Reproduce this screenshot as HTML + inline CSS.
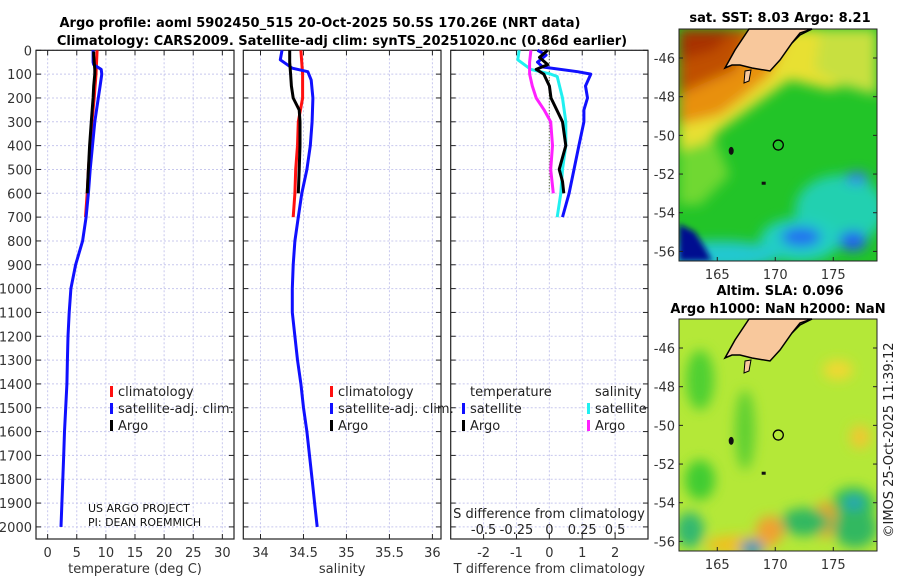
<!DOCTYPE html>
<html><head><meta charset="utf-8"><style>
html,body{margin:0;padding:0;background:#fff;width:900px;height:580px;overflow:hidden}
svg{display:block;font-family:"DejaVu Sans","Liberation Sans",sans-serif}
</style></head><body>
<svg id="fig" width="900" height="580" viewBox="0 0 900 580">
<defs>
<filter id="bl" x="-50%" y="-50%" width="200%" height="200%"><feGaussianBlur stdDeviation="6"/></filter>
<filter id="bl2" x="-50%" y="-50%" width="200%" height="200%"><feGaussianBlur stdDeviation="3"/></filter>
<clipPath id="c1"><rect x="679" y="29" width="198" height="232"/></clipPath>
<clipPath id="c2"><rect x="679" y="319" width="198" height="232"/></clipPath>
</defs>
<text x="320" y="27" text-anchor="middle" font-size="13" font-weight="bold">Argo profile: aoml 5902450_515 20-Oct-2025 50.5S 170.26E (NRT data)</text>
<text x="342" y="45" text-anchor="middle" font-size="13" font-weight="bold">Climatology: CARS2009. Satellite-adj clim: synTS_20251020.nc (0.86d earlier)</text>
<g id="panels"></g>

<g clip-path="url(#c1)">
<rect x="679" y="29" width="198" height="232" fill="#22c428"/>
<g filter="url(#bl)">
<polygon points="679,29 877,29 877,75 830,90 790,80 755,105 720,130 700,150 679,160" fill="#e8e030"/>
<polygon points="679,29 790,29 770,75 740,100 720,115 679,125" fill="#e89010"/>
<polygon points="679,29 750,29 735,70 700,85 679,95" fill="#c05000"/>
<polygon points="679,29 735,29 715,50 679,60" fill="#a83000"/>
<polygon points="820,29 877,29 877,95 840,85 815,70" fill="#c8e040"/>
<polygon points="679,150 715,140 730,175 700,205 679,205" fill="#70d830"/>
<ellipse cx="840" cy="210" rx="45" ry="35" fill="#20d0b0"/>
<ellipse cx="800" cy="240" rx="40" ry="22" fill="#20d0c0"/>
<ellipse cx="720" cy="255" rx="60" ry="14" fill="#20c8d0"/>
<ellipse cx="801" cy="237" rx="20" ry="10" fill="#2070f0"/>
<ellipse cx="853" cy="241" rx="14" ry="10" fill="#2060f0"/>
<ellipse cx="857" cy="178" rx="12" ry="6" fill="#3080f0"/>
</g>
<polygon points="679,224 695,232 705,248 712,261 679,261" fill="#001090" filter="url(#bl2)"/>
</g>
<rect x="679" y="29" width="198" height="232" fill="none" stroke="#222"/>
<g clip-path="url(#c2)">
<rect x="679" y="319" width="198" height="232" fill="#b4e838"/>
<g filter="url(#bl)">
<ellipse cx="700" cy="380" rx="14" ry="30" fill="#50d030"/>
<ellipse cx="745" cy="430" rx="10" ry="40" fill="#60d030"/>
<ellipse cx="700" cy="480" rx="15" ry="20" fill="#40cc30"/>
<ellipse cx="853" cy="505" rx="22" ry="18" fill="#30c050"/>
<ellipse cx="854" cy="503" rx="10" ry="7" fill="#20a0c0"/>
<ellipse cx="825" cy="520" rx="12" ry="18" fill="#f0a020"/>
<ellipse cx="805" cy="522" rx="25" ry="14" fill="#30b860"/>
<ellipse cx="855" cy="528" rx="22" ry="20" fill="#30b860"/>
<ellipse cx="690" cy="530" rx="14" ry="18" fill="#30b870"/>
<ellipse cx="740" cy="545" rx="35" ry="10" fill="#f0c020"/>
<ellipse cx="770" cy="530" rx="14" ry="14" fill="#f0a030"/>
<ellipse cx="752" cy="548" rx="12" ry="8" fill="#2090c0"/>
<ellipse cx="838" cy="370" rx="15" ry="10" fill="#f0d830"/>
<ellipse cx="860" cy="437" rx="10" ry="12" fill="#f0c830"/>
</g>
</g>
<rect x="679" y="319" width="198" height="232" fill="none" stroke="#222"/>
<g id="maps"></g>
<text x="780" y="22" text-anchor="middle" font-size="13" font-weight="bold">sat. SST: 8.03 Argo: 8.21</text>
<text x="780" y="295" text-anchor="middle" font-size="13" font-weight="bold">Altim. SLA: 0.096</text>
<text x="778" y="313" text-anchor="middle" font-size="13" font-weight="bold">Argo h1000: NaN h2000: NaN</text>
<text transform="translate(893,440) rotate(-90)" text-anchor="middle" font-size="13" fill="#222">©IMOS 25-Oct-2025 11:39:12</text>
</svg>
<script>
const argoDepth=[5,20,50,80,100,150,200,300,400,500,600];
const argoTemp=[7.9,7.9,8.0,8.1,8.1,7.9,7.8,7.5,7.2,7.0,6.8];
const climDepth=[0,100,200,300,400,500,600,700];
const climTemp=[8.5,8.3,8.0,7.6,7.3,7.0,6.8,6.5];
const satDepth=[0,50,60,80,100,150,200,300,400,500,600,700,800,900,1000,1100,1200,1300,1400,1500,1600,1700,1800,1900,2000];
const satTemp=[7.8,7.8,7.9,9.2,9.3,9.0,8.7,8.1,7.7,7.3,7.0,6.6,6.0,4.8,4.0,3.7,3.5,3.4,3.3,3.1,2.9,2.75,2.6,2.45,2.3];
const satSalDepth=[0,40,75,90,125,200,300,400,500,600,700,800,900,1000,1100,1200,1300,1400,1500,1600,1700,1800,1900,2000];
const satSal=[34.25,34.23,34.37,34.55,34.59,34.61,34.6,34.58,34.54,34.48,34.44,34.40,34.38,34.37,34.37,34.40,34.43,34.47,34.50,34.54,34.57,34.60,34.63,34.66];
const climSal=[34.47,34.49,34.49,34.44,34.43,34.41,34.40,34.38];
const argoSalDepth=[0,50,100,150,200,250,300,400,500,600];
const argoSal=[34.34,34.34,34.35,34.36,34.38,34.45,34.46,34.46,34.45,34.44];
const dDepth=[0,30,60,80,100,150,200,300,400,500,550,600];
const argoTDiff=[-0.05,-0.3,-0.05,-0.4,-0.17,0,0.05,0.4,0.5,0.3,0.4,0.44];
const satTDiffDepth=[0,20,50,70,90,100,150,200,250,300,400,500,600,700];
const satTDiff=[-0.36,-0.1,-0.36,-0.2,0.86,1.26,1.1,1.16,1.05,1.05,0.9,0.75,0.6,0.4];
const satSDiffDepth=[0,40,80,100,110,200,300,400,500,600,700];
const satSDiff=[-0.23,-0.24,-0.14,0.01,0.06,0.1,0.125,0.125,0.1,0.087,0.06];
const argoSDiffDepth=[0,50,100,150,200,250,300,400,500,600];
const argoSDiff=[-0.14,-0.15,-0.15,-0.13,-0.1,-0.04,0.01,0.024,0.01,0.03];
const depthTicks=[0,100,200,300,400,500,600,700,800,900,1000,1100,1200,1300,1400,1500,1600,1700,1800,1900,2000];
const tempTicks=[0,5,10,15,20,25,30];
const salTicks=[34,34.5,35,35.5,36];
const tdTicks=[-2,-1,0,1,2];
const sdTicks=[-0.5,-0.25,0,0.25,0.5];
const lonTicks=[165,170,175];
const latTicks=[-46,-48,-50,-52,-54,-56];

const NS='http://www.w3.org/2000/svg';
const yTop=50.3, yBot=539, pxPer=0.2383;
const yD=d=>yTop+d*pxPer;
function mk(tag,attrs,parent){const e=document.createElementNS(NS,tag);for(const k in attrs)e.setAttribute(k,attrs[k]);parent.appendChild(e);return e;}
const P=document.getElementById('panels');
function panel(name,x0,x1,vmin,vmax,ticks,label,fmt){
  const g=mk('g',{},P);
  
  
  const xs=v=>x0+(v-vmin)/(vmax-vmin)*(x1-x0);
  depthTicks.forEach(d=>{const l=mk('line',{x1:x0,x2:x1,y1:yD(d),y2:yD(d),stroke:'#c8c8ee','stroke-dasharray':'2,2','stroke-width':1},g);
    
    });
  ticks.forEach(v=>{const l=mk('line',{x1:xs(v),x2:xs(v),y1:yTop,y2:yBot,stroke:'#c8c8ee','stroke-dasharray':'2,2','stroke-width':1},g);
    
    
    mk('line',{x1:xs(v),x2:xs(v),y1:yBot,y2:yBot-5,stroke:'#222'},g);
    mk('line',{x1:xs(v),x2:xs(v),y1:yTop,y2:yTop+5,stroke:'#222'},g);
    const t=mk('text',{x:xs(v),y:yBot+18,'text-anchor':'middle','font-size':13,fill:'#333'},g);t.textContent=fmt(v);
    
    });
  depthTicks.forEach(d=>{mk('line',{x1:x0,x2:x0+5,y1:yD(d),y2:yD(d),stroke:'#222'},g);mk('line',{x1:x1,x2:x1-5,y1:yD(d),y2:yD(d),stroke:'#222'},g);});
  const r=mk('rect',{x:x0,y:yTop,width:x1-x0,height:yBot-yTop,fill:'none',stroke:'#222','stroke-width':1.2},g);
  
  
  if(label){const t=mk('text',{x:(x0+x1)/2,y:yBot+34,'text-anchor':'middle','font-size':13,fill:'#333'},g);t.textContent=label;
    
    }
  return {g,xs};
}
function line(p,depths,vals,color,name,scale){
  const pts=depths.map((d,i)=>p.xs(vals[i]*(scale||1)).toFixed(1)+','+yD(d).toFixed(1)).join(' ');
  const e=mk('polyline',{points:pts,fill:'none',stroke:color,'stroke-width':3,'stroke-linejoin':'round'},p.g);
  
  
}
function legendItem(g,x,y,color,txt,name){
  mk('rect',{x:x,y:y-10,width:3,height:11,fill:color},g);
  const t=mk('text',{x:x+8,y:y,'font-size':13,fill:'#222'},g);t.textContent=txt;
  
  
}
const p1=panel('temperature-panel',36,234,-2,32,tempTicks,'temperature (deg C)',v=>v);
depthTicks.forEach(d=>{const t=mk('text',{x:32,y:yD(d)+5,'text-anchor':'end','font-size':13,fill:'#333'},p1.g);t.textContent=d;
  
  });
line(p1,climDepth,climTemp,'#ff1010','climatology-temp-line');
line(p1,satDepth,satTemp,'#1010ff','satellite-temp-line');
line(p1,argoDepth,argoTemp,'#000','argo-temp-line');
legendItem(p1.g,110,396,'#ff1010','climatology','legend-climatology');
legendItem(p1.g,110,413,'#1010ff','satellite-adj. clim.','legend-satellite');
legendItem(p1.g,110,430,'#000','Argo','legend-argo');
[['US ARGO PROJECT',512],['PI: DEAN ROEMMICH',526]].forEach(a=>{const t=mk('text',{x:88,y:a[1],'font-size':11,fill:'#111'},p1.g);t.textContent=a[0];
  
  });
const p2=panel('salinity-panel',243.3,441,33.8,36.1,salTicks,'salinity',v=>v);
line(p2,climDepth,climSal,'#ff1010','climatology-sal-line');
line(p2,satSalDepth,satSal,'#1010ff','satellite-sal-line');
line(p2,argoSalDepth,argoSal,'#000','argo-sal-line');
legendItem(p2.g,330,396,'#ff1010','climatology','legend-climatology');
legendItem(p2.g,330,413,'#1010ff','satellite-adj. clim.','legend-satellite');
legendItem(p2.g,330,430,'#000','Argo','legend-argo');
const p3=panel('difference-panel',450.7,648,-3,3,tdTicks,'T difference from climatology',v=>v);
const z=mk('line',{x1:p3.xs(0),x2:p3.xs(0),y1:yD(0),y2:yD(600),stroke:'#556b2f','stroke-dasharray':'1,2','stroke-width':1.2},p3.g);


line(p3,satSDiffDepth,satSDiff,'#20f0f0','satellite-sal-diff-line',4);
line(p3,argoSDiffDepth,argoSDiff,'#ff20ff','argo-sal-diff-line',4);
line(p3,satTDiffDepth,satTDiff,'#1010ff','satellite-temp-diff-line');
line(p3,dDepth,argoTDiff,'#000','argo-temp-diff-line');
(function(){const t=mk('text',{x:470,y:396,'font-size':13,fill:'#222'},p3.g);t.textContent='temperature';
 
 
 const s=mk('text',{x:595,y:396,'font-size':13,fill:'#222'},p3.g);s.textContent='salinity';
 
 })();
legendItem(p3.g,462,413,'#1010ff','satellite','legend-temp-satellite');
legendItem(p3.g,462,430,'#000','Argo','legend-temp-argo');
legendItem(p3.g,587,413,'#20f0f0','satellite','legend-sal-satellite');
legendItem(p3.g,587,430,'#ff20ff','Argo','legend-sal-argo');
(function(){const t=mk('text',{x:549,y:518,'text-anchor':'middle','font-size':13,fill:'#222'},p3.g);t.textContent='S difference from climatology';
 
 
 sdTicks.forEach(v=>{const l=mk('text',{x:p3.xs(v*4),y:534,'text-anchor':'middle','font-size':13,fill:'#222'},p3.g);l.textContent=v;
  
  });})();

const M=document.getElementById('maps');
function mapAxes(name,y0){
  const g=mk('g',{},M);
  
  
  const mx=lon=>679+(lon-161.7)*11.6, my=lat=>y0+(-44.5-lat)*19.34;
  const land=[[749,0],[735,21],[725,39],[732,36],[740,36],[752,39],[770,42],[780,31],[792,14],[800,4],[812,0]];
  const lp=mk('polygon',{points:land.map(p=>p[0]+','+(p[1]+y0)).join(' '),fill:'#f8c89c',stroke:'#000','stroke-width':1.5},g);
  
  
  mk('polyline',{points:`792,${y0+14} 800,${y0+6} 812,${y0}`,fill:'none',stroke:'#000','stroke-width':1.5},g);
  mk('polygon',{points:`745,${y0+42} 751,${y0+41} 749,${y0+52} 744,${y0+54}`,fill:'#f8c89c',stroke:'#000'},g);
  mk('ellipse',{cx:mx(166.2),cy:my(-50.8),rx:2.5,ry:4,fill:'#111'},g);
  mk('rect',{x:mx(169)-2,y:my(-52.5)-2,width:4,height:3,fill:'#111'},g);
  const c=mk('circle',{cx:mx(170.26),cy:my(-50.5),r:5,fill:'none',stroke:'#000','stroke-width':1.3},g);
  
  
  const yb=y0+232;
  lonTicks.forEach(v=>{mk('line',{x1:mx(v),x2:mx(v),y1:yb,y2:yb-4,stroke:'#222'},g);
    const t=mk('text',{x:mx(v),y:yb+18,'text-anchor':'middle','font-size':13,fill:'#333'},g);t.textContent=v;
    
    });
  latTicks.forEach(v=>{mk('line',{x1:679,x2:683,y1:my(v),y2:my(v),stroke:'#222'},g);mk('line',{x1:877,x2:873,y1:my(v),y2:my(v),stroke:'#222'},g);
    const t=mk('text',{x:675,y:my(v)+5,'text-anchor':'end','font-size':13,fill:'#333'},g);t.textContent=v;
    
    });
}
mapAxes('sst-map-axes',29);
mapAxes('sla-map-axes',319);
</script>
</body></html>
